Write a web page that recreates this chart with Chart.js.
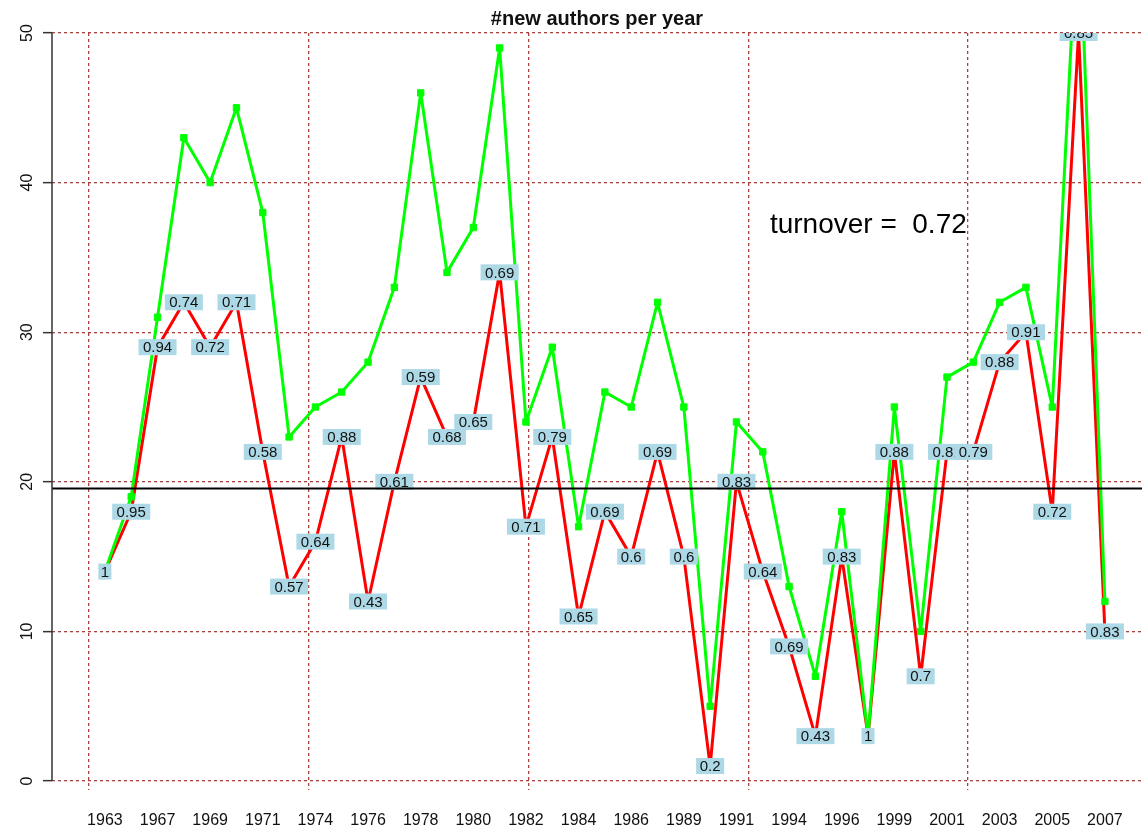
<!DOCTYPE html>
<html>
<head>
<meta charset="utf-8">
<title>#new authors per year</title>
<script src="https://cdn.jsdelivr.net/npm/chart.js@4.4.1/dist/chart.umd.min.js"></script>
<style>
  html, body { margin: 0; padding: 0; background: #fff; }
  #wrap { width: 1142px; height: 826px; }
</style>
</head>
<body>
<div id="wrap"><canvas id="authors-chart" width="1142" height="826"></canvas></div>
<script>
// years with data (some years are missing from the series)
const years = [1963, 1965, 1967, 1968, 1969, 1970, 1971, 1973, 1974, 1975,
               1976, 1977, 1978, 1979, 1980, 1981, 1982, 1983, 1984, 1985,
               1986, 1988, 1989, 1990, 1991, 1993, 1994, 1995, 1996, 1998,
               1999, 2000, 2001, 2002, 2003, 2004, 2005, 2006, 2007];

// all authors per year (green)
const totalAuthors = [14, 19, 31, 43, 40, 45, 38, 23, 25, 26,
                      28, 33, 46, 34, 37, 49, 24, 29, 17, 26,
                      25, 32, 25, 5, 24, 22, 13, 7, 18, 3,
                      25, 10, 27, 28, 32, 33, 25, 59, 12];

// new authors per year (red)
const newAuthors = [14, 18, 29, 32, 29, 32, 22, 13, 16, 23,
                    12, 20, 27, 23, 24, 34, 17, 23, 11, 18,
                    15, 22, 15, 1, 20, 14, 9, 3, 15, 3,
                    22, 7, 22, 22, 28, 30, 18, 50, 10];

// turnover per year, printed in the blue boxes
const turnover = [1, 0.95, 0.94, 0.74, 0.72, 0.71, 0.58, 0.57, 0.64, 0.88,
                  0.43, 0.61, 0.59, 0.68, 0.65, 0.69, 0.71, 0.79, 0.65, 0.69,
                  0.6, 0.69, 0.6, 0.2, 0.83, 0.64, 0.69, 0.43, 0.83, 1,
                  0.88, 0.7, 0.81, 0.79, 0.88, 0.91, 0.72, 0.85, 0.83];

const yTicks = [0, 10, 20, 30, 40, 50];
const meanNewAuthors = 19.56;
const turnoverText = 'turnover =  0.72';

// vertical grid lines (in index units of the x scale)
const xGridAt = [-0.6, 7.75, 16.1, 24.45, 32.8];

const FONT = '"Liberation Sans", Arial, Helvetica, sans-serif';
const gridColor = '#a8423f';

// boxed labels, mean line, y axis line and the turnover note
const extras = {
    id: 'extras',
    afterDatasetsDraw: function(chart) {
        const ctx = chart.ctx;
        const area = chart.chartArea;
        const x = chart.scales.x;
        const y = chart.scales.y;

        ctx.save();
        ctx.beginPath();
        ctx.rect(area.left, area.top, area.right - area.left, area.bottom - area.top);
        ctx.clip();
        ctx.font = '15px ' + FONT;
        ctx.textAlign = 'center';
        ctx.textBaseline = 'middle';
        turnover.forEach(function(r, i) {
            const px = x.getPixelForValue(i);
            const py = y.getPixelForValue(newAuthors[i]);
            const txt = String(r);
            const w = ctx.measureText(txt).width * 1.2 + 3;
            ctx.fillStyle = '#add8e6';
            ctx.fillRect(px - w / 2, py - 8, w, 16);
            ctx.fillStyle = '#111';
            ctx.fillText(txt, px, py + 1);
        });

        // mean of new authors
        const my = y.getPixelForValue(meanNewAuthors);
        ctx.strokeStyle = '#000';
        ctx.lineWidth = 2;
        ctx.beginPath();
        ctx.moveTo(area.left, my);
        ctx.lineTo(area.right, my);
        ctx.stroke();
        ctx.restore();

        // y axis line from 0 to 50
        ctx.save();
        ctx.strokeStyle = '#333';
        ctx.lineWidth = 1.5;
        ctx.beginPath();
        ctx.moveTo(area.left, y.getPixelForValue(yTicks[0]));
        ctx.lineTo(area.left, y.getPixelForValue(yTicks[yTicks.length - 1]));
        ctx.stroke();

        // turnover note
        ctx.font = '28px ' + FONT;
        ctx.fillStyle = '#000';
        ctx.textAlign = 'left';
        ctx.textBaseline = 'alphabetic';
        ctx.fillText(turnoverText, x.getPixelForValue(25.27), y.getPixelForValue(36.6));
        ctx.restore();
    }
};

new Chart(document.getElementById('authors-chart'), {
    type: 'line',
    data: {
        datasets: [
            {
                label: 'authors',
                data: totalAuthors.map(function(v, i) { return {x: i, y: v}; }),
                borderColor: '#00ff00',
                backgroundColor: '#00ff00',
                borderWidth: 3,
                borderJoinStyle: 'round',
                borderCapStyle: 'round',
                pointStyle: 'rect',
                pointRadius: 4.5,
                pointBorderWidth: 1,
                tension: 0
            },
            {
                label: 'new authors',
                data: newAuthors.map(function(v, i) { return {x: i, y: v}; }),
                borderColor: '#ff0000',
                backgroundColor: '#ff0000',
                borderWidth: 3,
                borderJoinStyle: 'round',
                borderCapStyle: 'round',
                pointRadius: 0,
                tension: 0
            }
        ]
    },
    options: {
        responsive: false,
        animation: false,
        devicePixelRatio: 1,
        layout: { padding: 0, autoPadding: false },
        plugins: {
            legend: { display: false },
            tooltip: { enabled: false },
            title: {
                display: true,
                text: '#new authors per year',
                fullSize: false,
                color: '#111',
                font: { family: FONT, size: 20, weight: 'bold' },
                padding: { top: 7, bottom: 2 }
            }
        },
        scales: {
            x: {
                type: 'linear',
                position: 'bottom',
                min: -2.01,
                max: 39.41,
                grid: { display: false },
                border: { display: false },
                afterBuildTicks: function(scale) {
                    scale.ticks = years.map(function(yr, i) { return {value: i}; })
                        .filter(function(t) { return t.value % 2 === 0; });
                },
                ticks: {
                    autoSkip: false,
                    maxRotation: 0,
                    padding: 13,
                    color: '#111',
                    font: { family: FONT, size: 16 },
                    callback: function(v) { return years[v]; }
                },
                afterFit: function(scale) {
                    scale.height = 36;
                    scale.paddingLeft = 0;
                    scale.paddingRight = 0;
                }
            },
            xg: {
                type: 'linear',
                position: 'top',
                min: -2.01,
                max: 39.41,
                grid: { color: gridColor, lineWidth: 1.3, drawTicks: false },
                border: { display: false, dash: [3, 3] },
                ticks: { display: false },
                afterBuildTicks: function(scale) {
                    scale.ticks = xGridAt.map(function(v) { return {value: v}; });
                },
                afterFit: function(scale) {
                    scale.height = 0;
                    scale.paddingLeft = 0;
                    scale.paddingRight = 0;
                }
            },
            y: {
                min: -0.6,
                max: 50,
                afterBuildTicks: function(scale) {
                    scale.ticks = yTicks.map(function(v) { return {value: v}; });
                },
                grid: {
                    color: gridColor,
                    lineWidth: 1.3,
                    tickLength: 9,
                    tickColor: '#333',
                    tickWidth: 1.5,
                    tickBorderDash: []
                },
                border: { display: false, dash: [3, 3] },
                ticks: {
                    minRotation: 90,
                    maxRotation: 90,
                    crossAlign: 'center',
                    padding: 7,
                    color: '#111',
                    font: { family: FONT, size: 16 }
                },
                afterFit: function(scale) {
                    scale.width = 52;
                    scale.paddingTop = 0;
                    scale.paddingBottom = 0;
                }
            }
        }
    },
    plugins: [extras]
});
</script>
</body>
</html>
